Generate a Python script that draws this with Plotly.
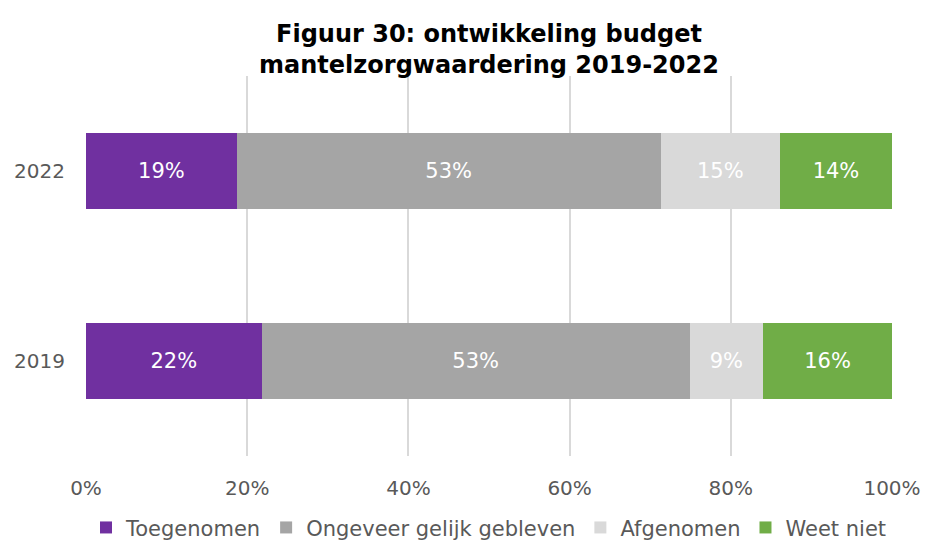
import plotly.graph_objects as go

years = ["2019", "2022"]
series = ["Toegenomen", "Ongeveer gelijk gebleven", "Afgenomen", "Weet niet"]
values = {
    "Toegenomen": [21.8, 18.7],
    "Ongeveer gelijk gebleven": [53.1, 52.6],
    "Afgenomen": [9.1, 14.8],
    "Weet niet": [16.0, 13.9],
}
colors = ["#7030a0", "#a5a5a5", "#d9d9d9", "#70ad47"]

fig = go.Figure()
for name, col in zip(series, colors):
    v = values[name]
    fig.add_trace(go.Bar(
        y=years, x=v, name=name, orientation="h",
        marker=dict(color=col, line=dict(width=0)),
        text=[f"{round(a):.0f}%" for a in v],
        textposition="inside", insidetextanchor="middle",
        textfont=dict(color="white", size=21, family="DejaVu Sans"),
        width=0.4,
    ))

fig.update_layout(
    barmode="stack",
    width=927, height=543,
    margin=dict(l=86, r=35, t=76, b=87, autoexpand=False),
    paper_bgcolor="white", plot_bgcolor="white",
    font=dict(family="DejaVu Sans", color="#595959"),
    title=dict(text="<b>Figuur 30: ontwikkeling budget<br>mantelzorgwaardering 2019-2022</b>",
               x=0.5, xanchor="center", xref="paper", y=1 - 42 / 543, yanchor="bottom",
               font=dict(size=24, color="black", family="DejaVu Sans")),
    xaxis=dict(range=[0, 100], dtick=20, ticksuffix="%", showgrid=True,
               gridcolor="#d9d9d9", gridwidth=1.5, zeroline=False,
               tickfont=dict(size=20, color="#595959"), ticklabelstandoff=18,
               showline=False, automargin=False),
    yaxis=dict(range=[-0.5, 1.5], tickfont=dict(size=20, color="#595959"),
               ticklabelstandoff=20, showgrid=False, showline=False, automargin=False),
    legend=dict(orientation="h", x=0.5, xanchor="center", y=-0.135, yanchor="top",
                font=dict(size=21, color="#595959"), traceorder="normal",
                itemwidth=30, tracegroupgap=0),
    showlegend=True,
    uniformtext=dict(mode="show", minsize=10),
)
fig.write_html("out.html")
